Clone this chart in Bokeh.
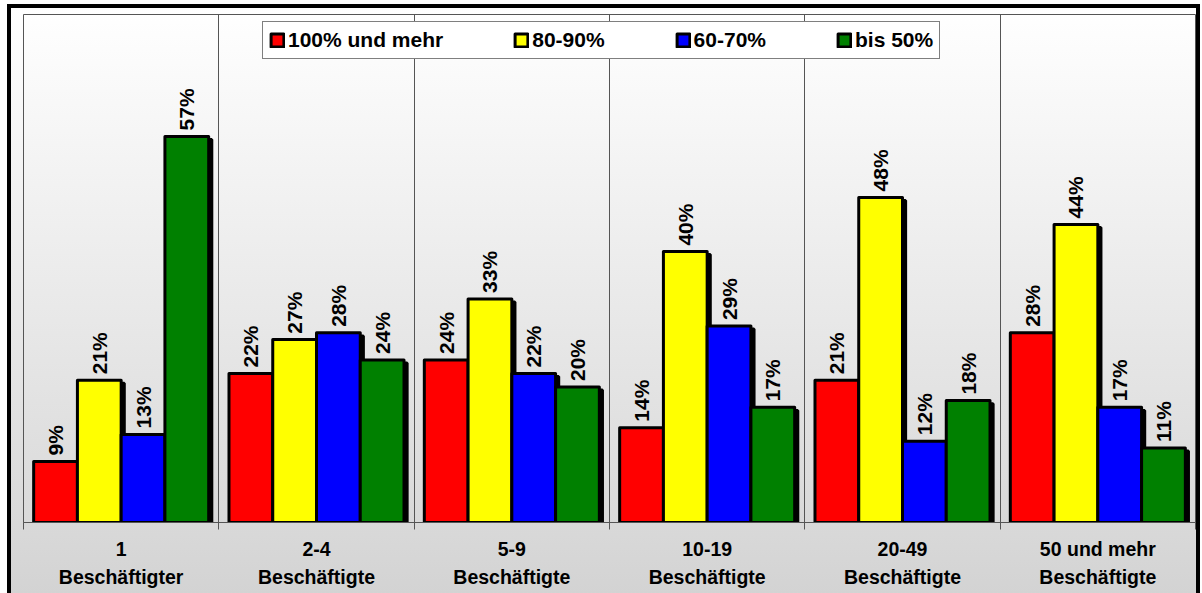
from bokeh.plotting import figure
from bokeh.models import (Range1d, FixedTicker, LinearAxis, ColumnDataSource, LabelSet,
                          Legend, LegendItem, Grid)
from bokeh.transform import dodge
from bokeh.core.properties import value
from bokeh.embed import file_html
from bokeh.resources import INLINE

categories = ["1\nBeschäftigter", "2-4\nBeschäftigte", "5-9\nBeschäftigte",
              "10-19\nBeschäftigte", "20-49\nBeschäftigte", "50 und mehr\nBeschäftigte"]
series_names = ["100% und mehr", "80-90%", "60-70%", "bis 50%"]
series_colors = ["#ff0000", "#ffff00", "#0000ff", "#008000"]
val_100_und_mehr = [9, 22, 24, 14, 21, 28]
val_80_90 = [21, 27, 33, 40, 48, 44]
val_60_70 = [13, 28, 22, 29, 12, 17]
val_bis_50 = [57, 24, 20, 17, 18, 11]
series_values = [val_100_und_mehr, val_80_90, val_60_70, val_bis_50]

FONT = "Liberation Sans"
n = len(categories)
centers = [i + 0.5 for i in range(n)]
boundaries = list(range(0, n + 1))

p = figure(width=1185, height=586, x_range=Range1d(0, n), y_range=Range1d(0, 75),
           output_backend="svg", toolbar_location=None,
           x_axis_location=None, y_axis_location=None,
           min_border_left=12, min_border_right=9, min_border_top=6, min_border_bottom=76)
p.xgrid.visible = False
p.ygrid.visible = False
p.background_fill_color = None
p.border_fill_color = None
p.outline_line_color = "#555555"
p.outline_line_width = 1
p.styles = {"border-top": "4px solid black", "border-left": "4px solid black",
            "border-right": "4px solid black", "box-sizing": "content-box",
            "margin-left": "7px", "margin-top": "4px",
            "background": "linear-gradient(to bottom, #ffffff 0%, #d9d9d9 88%, #d3d3d3 100%)"}

p.add_layout(Grid(dimension=0, ticker=FixedTicker(ticks=boundaries[1:-1]),
                  grid_line_color="#555555", grid_line_width=1))

bw = 0.224
shadow_dx = 0.016
shadow_dy = 0.45
legend_items = []
for k, (name, vals, col) in enumerate(zip(series_names, series_values, series_colors)):
    off = (k - 1.5) * bw
    src = ColumnDataSource(dict(x=centers, top=vals,
                                shadow=[v - shadow_dy for v in vals],
                                label=[f"{v}%" for v in vals]))
    p.vbar(x=dodge("x", off + shadow_dx), top="shadow", width=bw, source=src,
           fill_color="black", line_color="black", line_width=3)
    r = p.vbar(x=dodge("x", off), top="top", width=bw, source=src,
               fill_color=col, line_color="black", line_width=3, line_join="round")
    legend_items.append(LegendItem(label=name, renderers=[r]))
    p.add_layout(LabelSet(x=dodge("x", off), y="top", text="label", source=src,
                          angle=90, angle_units="deg", text_align="left",
                          text_baseline="middle", y_offset=6,
                          text_font=value(FONT), text_font_size=value("21px"),
                          text_font_style="bold", text_color="black"))

label_axis = LinearAxis(ticker=FixedTicker(ticks=centers, minor_ticks=boundaries),
                        major_label_overrides={c: lab for c, lab in zip(centers, categories)},
                        major_tick_line_color=None, major_tick_out=0, major_tick_in=0,
                        minor_tick_line_color="#555555", minor_tick_out=7, minor_tick_in=0,
                        axis_line_color="#555555", major_label_standoff=8,
                        major_label_text_font=FONT, major_label_text_font_size="19.5px",
                        major_label_text_line_height=1.28,
                        major_label_text_font_style="bold", major_label_text_color="black")
p.add_layout(label_axis, "below")

legend = Legend(items=legend_items, orientation="horizontal", location=(239, 463),
                padding=6, spacing=70, label_standoff=3,
                glyph_width=16, glyph_height=16,
                label_text_font=FONT, label_text_font_size="21px",
                label_text_font_style="bold", label_text_color="black",
                border_line_color="black", border_line_width=1,
                background_fill_color="white", background_fill_alpha=1.0)
p.add_layout(legend, "center")

open("out.html", "w").write(file_html(p, INLINE))
